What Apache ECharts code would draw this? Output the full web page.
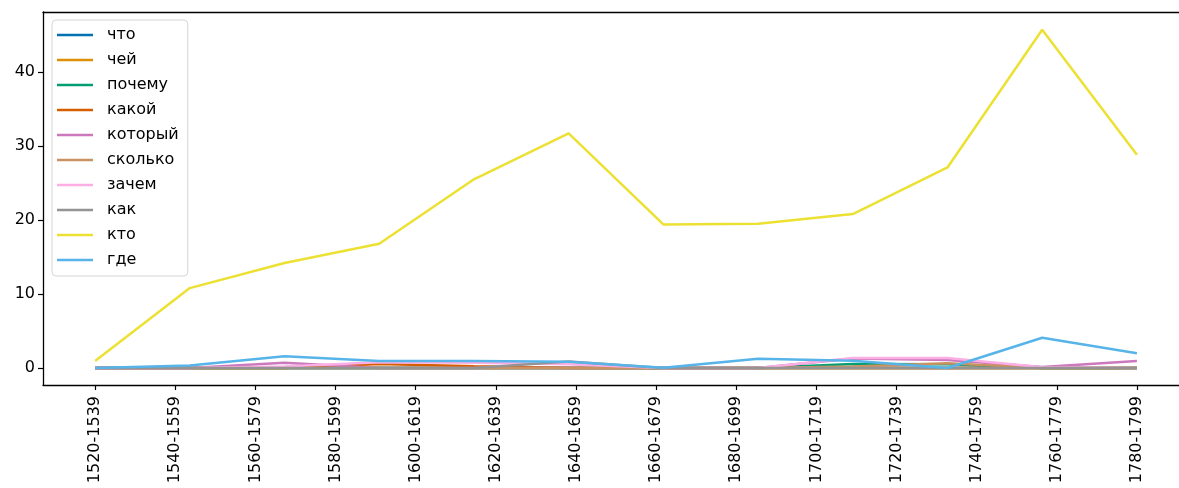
<!DOCTYPE html>
<html>
<head>
<meta charset="utf-8">
<script src="https://cdn.jsdelivr.net/npm/echarts@6/dist/echarts.min.js"></script>
<style>
html,body{margin:0;padding:0;background:#fff;}
#chart{width:1179px;height:488px;}
</style>
</head>
<body>
<div id="chart"></div>
<script>
const tickLabels = ['1520-1539','1540-1559','1560-1579','1580-1599','1600-1619','1620-1639','1640-1659','1660-1679','1680-1699','1700-1719','1720-1739','1740-1759','1760-1779','1780-1799'];
const yTicks = [0, 10, 20, 30, 40];

const seriesNames = ['что','чей','почему','какой','который','сколько','зачем','как','кто','где'];
const chto    = [0,0,0,0,0,0,0,0,0,0,0,0];
const chey    = [0,0,0,0,0,0,0,0,0,0,0,0];
const pochemu = [0,0,0,0,0,0,0,0,0.55,0.5,0,0];
const kakoy   = [0,0,0,0.55,0.25,0,0,0,0,0,0,0];
const kotoryy = [0,0,0.7,0,0,0,0,0,1.3,1.1,0.15,0.95];
const skolko  = [0,0,0,0,0,0,0,0,0.2,0.65,0,0];
const zachem  = [0,0,0.2,0.8,0.7,0.5,0,0,1.35,1.35,0.1,0];
const kak     = [0,0,0,0,0,0.9,0,0,0,0,0,0];
const kto     = [0.95,10.8,14.2,16.8,25.5,31.7,19.4,19.5,20.8,27.1,45.7,28.8];
const gde     = [0,0.35,1.6,0.95,0.95,0.85,0.05,1.25,1.0,0,4.1,2.0];

const seriesValues = [chto, chey, pochemu, kakoy, kotoryy, skolko, zachem, kak, kto, gde];
const colors = ['#0173b2','#de8f05','#029e73','#d55e00','#cc78bc','#ca9161','#fbafe4','#949494','#ece133','#56b4e9'];

const chart = echarts.init(document.getElementById('chart'), null, {renderer:'canvas'});
const font = 'DejaVu Sans';
const nTicks = tickLabels.length;
const nPts = kto.length;

const option = {
  animation: false,
  backgroundColor: '#fff',
  textStyle: {fontFamily: font},
  grid: {left: 43, top: 12, right: -10, bottom: 103, containLabel: false, outerBoundsMode: 'none'},
  legend: {
    orient: 'vertical',
    left: 52, top: 20,
    icon: 'rect',
    itemWidth: 36, itemHeight: 2.5, itemGap: 9,
    backgroundColor: '#fff',
    borderColor: '#d5d5d5', borderWidth: 1, borderRadius: 4,
    padding: [7, 9, 8, 5],
    data: seriesNames,
    formatter: '{a|{name}}',
    textStyle: {
      fontFamily: font, fontSize: 16, color: '#000', lineHeight: 16,
      rich: {a: {fontFamily: font, fontSize: 16, color: '#000', lineHeight: 16, padding: [0, 0, 0, 9]}}
    }
  },
  xAxis: [
    {
      type: 'value', min: -0.65, max: nTicks - 1 + 0.65, position: 'bottom',
      axisLine: {show: true, onZero: false, lineStyle: {color: '#000', width: 1.3}},
      axisTick: {show: true, length: 5, customValues: tickLabels.map((_, i) => i), lineStyle: {color: '#000', width: 1.2}},
      axisLabel: {
        customValues: tickLabels.map((_, i) => i),
        formatter: v => tickLabels[Math.round(v)] || '',
        rotate: 90, fontSize: 16, color: '#000', fontFamily: font, margin: 11
      },
      splitLine: {show: false}
    },
    {
      type: 'value', min: -0.55, max: nPts - 1 + 0.55, position: 'top',
      axisLine: {show: true, onZero: false, lineStyle: {color: '#000', width: 1.3}},
      axisTick: {show: false}, axisLabel: {show: false}, splitLine: {show: false}
    }
  ],
  yAxis: {
    type: 'value', min: -2.29, max: 48.1,
    axisLine: {show: true, onZero: false, lineStyle: {color: '#000', width: 1.3}},
    axisTick: {show: true, length: 5, customValues: yTicks, lineStyle: {color: '#000', width: 1.2}},
    axisLabel: {customValues: yTicks, fontSize: 16, color: '#000', fontFamily: font, margin: 8},
    splitLine: {show: false}
  },
  series: seriesNames.map((name, k) => ({
    name: name,
    type: 'line',
    xAxisIndex: 1,
    symbol: 'none',
    showSymbol: false,
    itemStyle: {color: colors[k]},
    lineStyle: {width: 2.5, color: colors[k]},
    data: seriesValues[k].map((v, i) => [i, v])
  }))
};
chart.setOption(option);
</script>
</body>
</html>
